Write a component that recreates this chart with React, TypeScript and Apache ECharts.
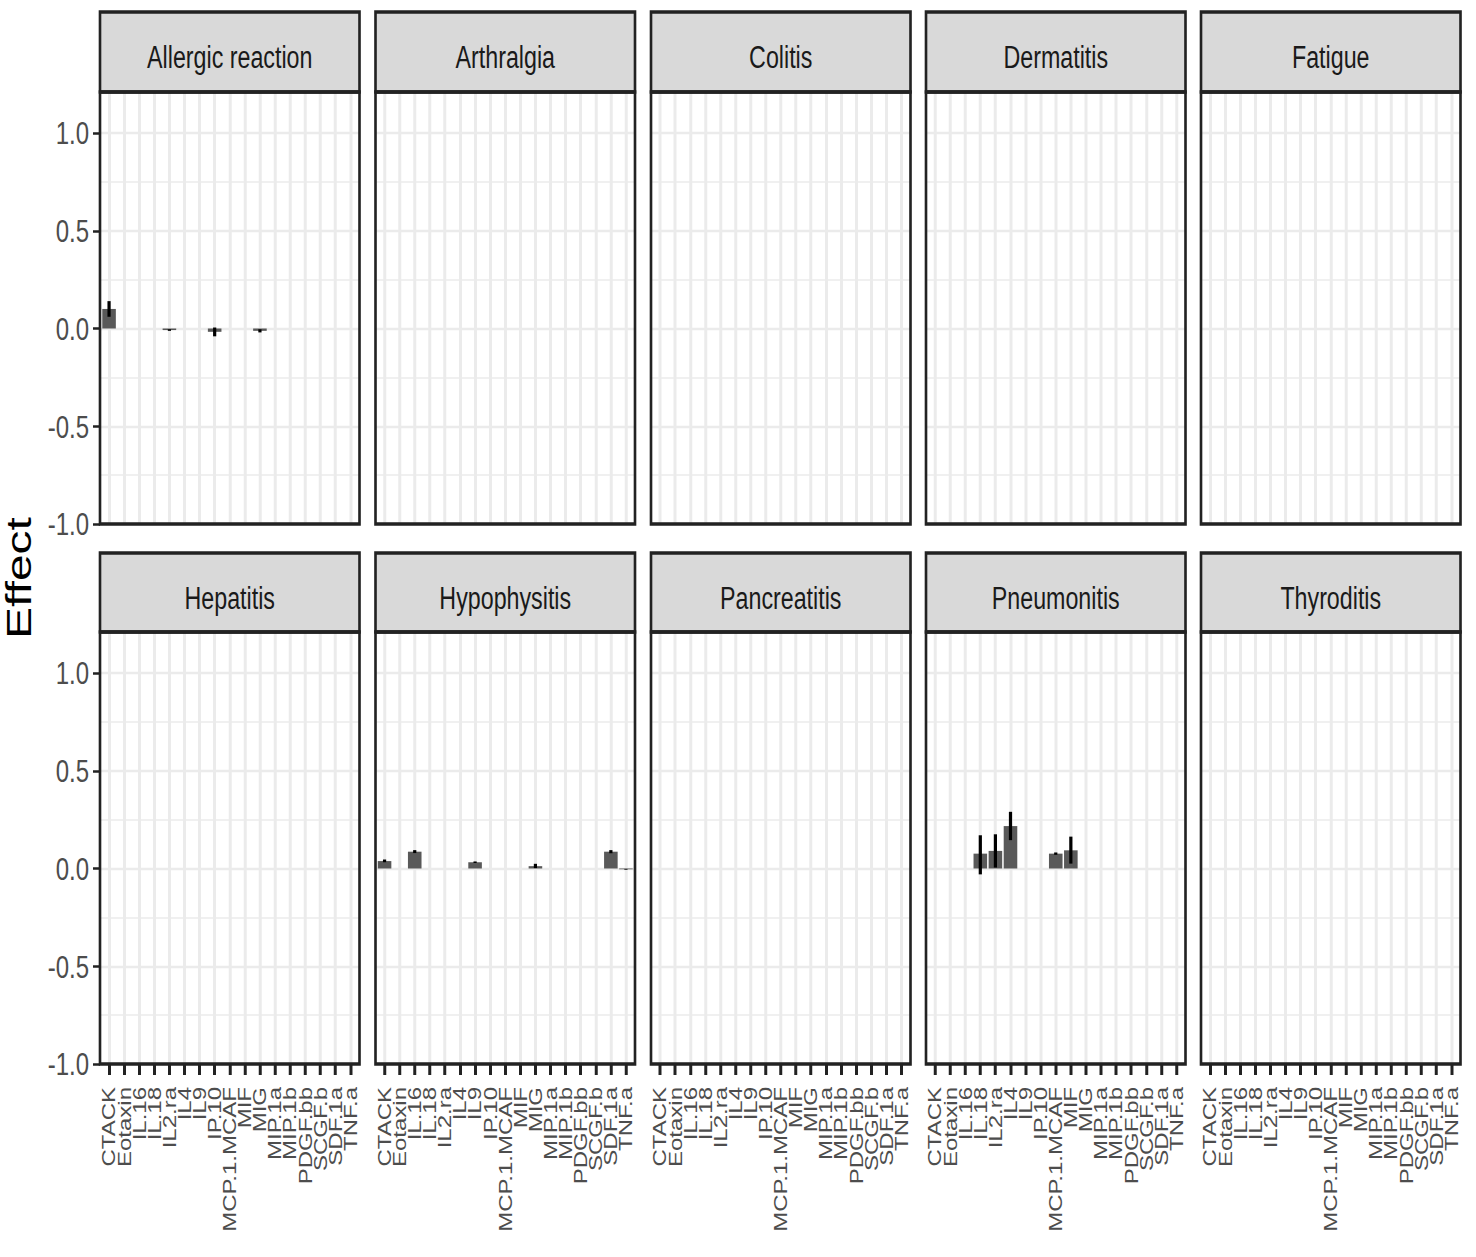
import React, { useEffect, useRef } from 'react';
import * as echarts from 'echarts';

// ---------- data ----------
const categories = ['CTACK', 'Eotaxin', 'IL.16', 'IL.18', 'IL2.ra', 'IL4', 'IL9', 'IP.10', 'MCP.1.MCAF', 'MIF', 'MIG', 'MIP.1a', 'MIP.1b', 'PDGF.bb', 'SCGF.b', 'SDF.1a', 'TNF.a'];
const facets = ['Allergic reaction', 'Arthralgia', 'Colitis', 'Dermatitis', 'Fatigue', 'Hepatitis', 'Hypophysitis', 'Pancreatitis', 'Pneumonitis', 'Thyroditis'];
const yTicks = [-1, -0.5, 0, 0.5, 1];

type V = number | null;
const _ = null;
//                        CTACK  Eot  IL16  IL18  IL2ra  IL4   IL9   IP10   MCP  MIF  MIG    M1a M1b PDGF SCGF SDF1a TNFa
const allergicEffect: V[] = [0.10, _, _, _, -0.008, _, _, -0.017, _, _, -0.012, _, _, _, _, _, _];
const allergicLower: V[] = [0.06, _, _, _, -0.012, _, _, -0.040, _, _, -0.020, _, _, _, _, _, _];
const allergicUpper: V[] = [0.14, _, _, _, -0.004, _, _, 0.005, _, _, -0.004, _, _, _, _, _, _];

const hypophysitisEffect: V[] = [0.038, _, 0.086, _, _, _, 0.032, _, _, _, 0.012, _, _, _, _, 0.086, -0.004];
const hypophysitisLower: V[] = [0.032, _, 0.079, _, _, _, 0.028, _, _, _, 0.002, _, _, _, _, 0.078, -0.006];
const hypophysitisUpper: V[] = [0.046, _, 0.094, _, _, _, 0.036, _, _, _, 0.024, _, _, _, _, 0.094, -0.002];

const pneumonitisEffect: V[] = [_, _, _, 0.076, 0.090, 0.217, _, _, 0.076, 0.093, _, _, _, _, _, _, _];
const pneumonitisLower: V[] = [_, _, _, -0.030, 0.005, 0.145, _, _, 0.070, 0.025, _, _, _, _, _, _, _];
const pneumonitisUpper: V[] = [_, _, _, 0.170, 0.175, 0.290, _, _, 0.082, 0.163, _, _, _, _, _, _, _];

const noValues: V[] = [_, _, _, _, _, _, _, _, _, _, _, _, _, _, _, _, _];

const facetEffect: Record<string, V[]> = {
  'Allergic reaction': allergicEffect,
  Hypophysitis: hypophysitisEffect,
  Pneumonitis: pneumonitisEffect,
};
const facetLower: Record<string, V[]> = {
  'Allergic reaction': allergicLower,
  Hypophysitis: hypophysitisLower,
  Pneumonitis: pneumonitisLower,
};
const facetUpper: Record<string, V[]> = {
  'Allergic reaction': allergicUpper,
  Hypophysitis: hypophysitisUpper,
  Pneumonitis: pneumonitisUpper,
};

// ---------- layout (reference pixel space, squeezed horizontally) ----------
const S = 0.75;
const PAGE_W = 1476;
const PAGE_H = 1257;
const W = PAGE_W / S;
const X = (v: number) => v / S;

const colLeft = [100, 375.5, 651, 926, 1201];
const panelW = 259.5;
const stripTop = [12, 553];
const panelTop = [92, 632];
const zeroY = [328.5, 868.5];
const unit = 195.5;
const step = panelW / 17.2;
const FONT = '"Liberation Sans", Arial, Helvetica, sans-serif';
const BORDER = '#222222';
const GRIDC = '#ebebeb';

function buildOption() {
  const grid: any[] = [];
  const xAxis: any[] = [];
  const yAxis: any[] = [];
  const series: any[] = [];
  const graphic: any[] = [];

  facets.forEach((facet, k) => {
    const row = k < 5 ? 0 : 1;
    const col = k % 5;
    const cl = colLeft[col];
    const bottom = zeroY[row] + unit;
    const outerIdx = 2 * k;
    const innerIdx = 2 * k + 1;

    // outer grid: horizontal grid lines + y labels
    grid.push({ left: X(cl), top: zeroY[row] - unit, width: X(panelW), height: 2 * unit, show: false });
    // inner grid: category axis, bars
    grid.push({ left: X(cl + 0.6 * step), top: panelTop[row], width: X(16 * step), height: bottom - panelTop[row], show: false });

    xAxis.push({ type: 'value', gridIndex: outerIdx, show: false, min: 0, max: 1 });
    yAxis.push({
      type: 'value',
      gridIndex: outerIdx,
      min: yTicks[0],
      max: yTicks[yTicks.length - 1],
      interval: 0.5,
      axisLine: { show: false },
      axisTick: { show: col === 0, length: X(7), lineStyle: { color: BORDER, width: 2.5 } },
      axisLabel: {
        show: col === 0,
        fontSize: 32,
        color: '#4d4d4d',
        fontFamily: FONT,
        margin: X(11),
        formatter: (v: number) => v.toFixed(1),
      },
      splitLine: { show: true, lineStyle: { color: GRIDC, width: 2.4 } },
      minorTick: { show: false, splitNumber: 2 },
      minorSplitLine: { show: true, lineStyle: { color: GRIDC, width: 1.6 } },
    });

    xAxis.push({
      type: 'category',
      gridIndex: innerIdx,
      data: categories,
      boundaryGap: false,
      axisLine: { show: false, onZero: false },
      axisTick: { show: row === 1, interval: 0, length: 11, lineStyle: { color: BORDER, width: X(3) } },
      axisLabel: {
        show: row === 1,
        interval: 0,
        rotate: 90,
        fontSize: 24,
        color: '#4d4d4d',
        fontFamily: FONT,
        margin: 23,
      },
      splitLine: { show: true, interval: 0, lineStyle: { color: GRIDC, width: X(3) } },
    });
    yAxis.push({
      type: 'value',
      gridIndex: innerIdx,
      show: false,
      min: yTicks[0],
      max: (zeroY[row] - panelTop[row]) / unit,
    });

    const eff = facetEffect[facet] || noValues;
    const lo = facetLower[facet] || noValues;
    const hi = facetUpper[facet] || noValues;

    series.push({
      type: 'bar',
      xAxisIndex: innerIdx,
      yAxisIndex: innerIdx,
      data: eff,
      barWidth: X(0.9 * step),
      itemStyle: { color: '#595959' },
      silent: true,
    });

    const errData: number[][] = [];
    eff.forEach((v, i) => {
      if (v !== null && lo[i] !== null && hi[i] !== null) errData.push([i, lo[i] as number, hi[i] as number]);
    });
    series.push({
      type: 'custom',
      xAxisIndex: innerIdx,
      yAxisIndex: innerIdx,
      data: errData,
      encode: { x: 0, y: [1, 2] },
      z: 5,
      silent: true,
      renderItem: (params: any, api: any) => {
        const xi = api.value(0);
        const p1 = api.coord([xi, api.value(1)]);
        const p2 = api.coord([xi, api.value(2)]);
        return {
          type: 'line',
          shape: { x1: p1[0], y1: p1[1], x2: p2[0], y2: p2[1] },
          style: { stroke: '#000000', lineWidth: X(3.2) },
        };
      },
    });

    // strip
    graphic.push({
      type: 'rect',
      z: 100,
      shape: { x: X(cl), y: stripTop[row], width: X(panelW), height: panelTop[row] - stripTop[row] },
      style: { fill: '#d9d9d9', stroke: BORDER, lineWidth: 3.5 },
    });
    graphic.push({
      type: 'text',
      z: 101,
      x: X(cl + panelW / 2),
      y: stripTop[row] + 45,
      style: {
        text: facet,
        font: `31px ${FONT}`,
        fill: '#1a1a1a',
        textAlign: 'center',
        textVerticalAlign: 'middle',
        align: 'center',
        verticalAlign: 'middle',
      },
    });
    // panel border
    graphic.push({
      type: 'rect',
      z: 100,
      shape: { x: X(cl), y: panelTop[row], width: X(panelW), height: bottom - panelTop[row] },
      style: { fill: 'none', stroke: BORDER, lineWidth: 3.5 },
    });
  });

  graphic.push({
    type: 'text',
    z: 101,
    x: X(19),
    y: 578,
    rotation: Math.PI / 2,
    style: {
      text: 'Effect',
      font: `48px ${FONT}`,
      fill: '#000000',
      textAlign: 'center',
      textVerticalAlign: 'middle',
      align: 'center',
      verticalAlign: 'middle',
    },
  });

  return {
    animation: false,
    backgroundColor: '#ffffff',
    grid,
    xAxis,
    yAxis,
    series,
    graphic,
  };
}

export default function App() {
  const ref = useRef<HTMLDivElement>(null);
  useEffect(() => {
    if (!ref.current) return;
    const chart = echarts.init(ref.current, null, { renderer: 'svg' });
    chart.setOption(buildOption() as any);
    return () => chart.dispose();
  }, []);
  return (
    <div
      style={{
        position: 'absolute',
        left: 0,
        top: 0,
        width: PAGE_W,
        height: PAGE_H,
        overflow: 'hidden',
        background: '#ffffff',
      }}
    >
      <div
        ref={ref}
        style={{ width: W, height: PAGE_H, transform: `scaleX(${S})`, transformOrigin: '0 0' }}
      />
    </div>
  );
}
